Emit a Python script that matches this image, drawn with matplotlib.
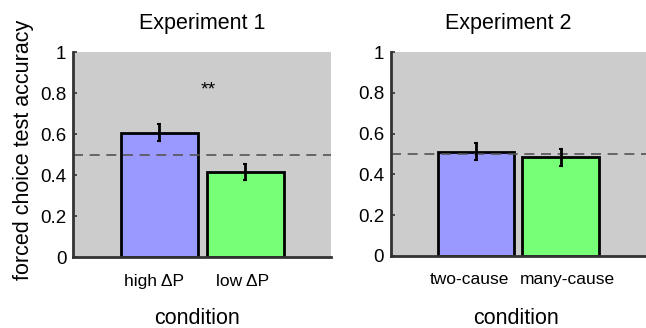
import matplotlib
matplotlib.use("Agg")
import matplotlib.pyplot as plt
from matplotlib.transforms import ScaledTranslation

plt.rcParams['font.family'] = ['Liberation Sans', 'DejaVu Sans']

exp1_labels = ["high ΔP", "low ΔP"]
exp1_values = [0.608, 0.415]
exp1_err = [0.041, 0.040]

exp2_labels = ["two-cause", "many-cause"]
exp2_values = [0.512, 0.483]
exp2_err = [0.041, 0.042]

bar_colors = ["#9999ff", "#77ff77"]
chance = 0.5
yticks = [0, 0.2, 0.4, 0.6, 0.8, 1]
ytick_labels = ["0", "0.2", "0.4", "0.6", "0.8", "1"]

W, H = 646, 328
fig = plt.figure(figsize=(W / 100, H / 100), dpi=100)

def px_axes(x0, x1, ytop, ybot):
    return [x0 / W, 1 - ybot / H, (x1 - x0) / W, (ybot - ytop) / H]

ax1 = fig.add_axes(px_axes(73.3, 331.5, 52.3, 257.3))
ax2 = fig.add_axes(px_axes(391, 645.5, 52.3, 255.7))

def style(ax, labels, values, errs, label_shift_px):
    xs = [1, 2]
    ax.set_facecolor("#cccccc")
    ax.bar(xs, values, width=0.9, color=bar_colors, edgecolor="black", linewidth=2, zorder=2)
    ax.errorbar(xs, values, yerr=errs, fmt="none", ecolor="black", elinewidth=2,
                capsize=1.5, capthick=1.5, zorder=3)
    ax.axhline(chance, color="#555555", linewidth=1.2, dashes=(6, 4), zorder=2.5)
    ax.set_xlim(0, 3)
    ax.set_ylim(0, 1)
    ax.set_xticks(xs)
    ax.set_xticklabels(labels, fontsize=12.5)
    ax.set_yticks(yticks)
    ax.set_yticklabels(ytick_labels, fontsize=13.5)
    ax.tick_params(axis="y", direction="in", length=3, width=1.2, pad=5, color="#333333")
    ax.tick_params(axis="x", length=0, pad=12)
    for lbl, dx in zip(ax.get_xticklabels(), label_shift_px):
        lbl.set_transform(lbl.get_transform() + ScaledTranslation(dx / 100, 0, fig.dpi_scale_trans))
    for s in ["top", "right"]:
        ax.spines[s].set_visible(False)
    for s in ["left", "bottom"]:
        ax.spines[s].set_linewidth(2)
        ax.spines[s].set_color("#333333")

style(ax1, exp1_labels, exp1_values, exp1_err, [-5, -2.5])
style(ax2, exp2_labels, exp2_values, exp2_err, [-6, 7])

ax1.text(1.57, 0.815, "**", ha="center", va="center", fontsize=14)

fig.text(201.7 / W, 1 - 23 / H, "Experiment 1", ha="center", va="center", fontsize=15.5)
fig.text(508 / W, 1 - 23 / H, "Experiment 2", ha="center", va="center", fontsize=15.5)
fig.text(197 / W, 1 - 319 / H, "condition", ha="center", va="center", fontsize=15.5)
fig.text(516 / W, 1 - 319 / H, "condition", ha="center", va="center", fontsize=15.5)
fig.text(24 / W, 1 - 150 / H, "forced choice test accuracy", ha="center", va="center",
         rotation=90, fontsize=15.5)

fig.savefig("out.png", dpi=100)
